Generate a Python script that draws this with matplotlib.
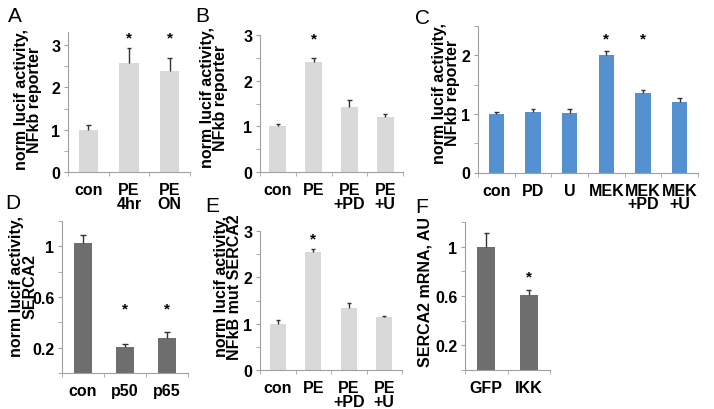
import numpy as np
import matplotlib
matplotlib.use('Agg')
import matplotlib.pyplot as plt

plt.rcParams['font.family'] = ['Liberation Sans', 'DejaVu Sans']

W, H = 714, 410

# Panel data
a_labels = ['con', 'PE\n4hr', 'PE\nON']
a_vals = [1.0, 2.58, 2.39]
a_err = [0.10, 0.34, 0.30]
a_star = [1, 2]

b_labels = ['con', 'PE', 'PE\n+PD', 'PE\n+U']
b_vals = [1.0, 2.40, 1.43, 1.20]
b_err = [0.05, 0.09, 0.15, 0.08]
b_star = [1]

c_labels = ['con', 'PD', 'U', 'MEK', 'MEK\n+PD', 'MEK\n+U']
c_vals = [1.0, 1.03, 1.01, 2.0, 1.35, 1.20]
c_err = [0.03, 0.05, 0.08, 0.07, 0.05, 0.07]
c_star = [3, 4]

d_labels = ['con', 'p50', 'p65']
d_vals = [1.026, 0.205, 0.28]
d_err = [0.065, 0.025, 0.04]
d_star = [1, 2]

e_labels = ['con', 'PE', 'PE\n+PD', 'PE\n+U']
e_vals = [0.99, 2.55, 1.33, 1.14]
e_err = [0.09, 0.06, 0.11, 0.02]
e_star = [1]

f_labels = ['GFP', 'IKK']
f_vals = [1.0, 0.605]
f_err = [0.11, 0.045]
f_star = [1]

LIGHT = '#d9d9d9'
BLUE = '#5590d0'
DARK = '#6e6e6e'
AXC = '#a0a0a0'

fig = plt.figure(figsize=(W / 100, H / 100), dpi=100)


def rect(x0, y0, x1, y1):
    return [x0 / W, 1 - y1 / H, (x1 - x0) / W, (y1 - y0) / H]


def panel(box, labels, vals, err, stars, color, ylim, major, minor,
          ticklabels, star_y, width):
    ax = fig.add_axes(rect(*box))
    x = np.arange(len(vals))
    vals = np.array(vals)
    err = np.array(err)
    ax.bar(x, vals, width=width, color=color, zorder=2)
    top = vals + err
    ax.vlines(x, vals, top, color='#333333', lw=1, zorder=3)
    ax.hlines(top, x - 0.06, x + 0.06, color='#333333', lw=1, zorder=3)
    for i in stars:
        ax.text(x[i], star_y, '*', ha='center', va='center',
                fontsize=11, fontweight='bold')
    ax.set_xlim(-0.5, len(vals) - 0.5)
    ax.set_ylim(*ylim)
    ax.set_yticks(major)
    ax.set_yticklabels(ticklabels)
    ax.set_yticks(minor, minor=True)
    ax.set_xticks(x)
    ax.set_xticklabels(labels, linespacing=0.88)
    ax.set_xticks(np.arange(len(vals) + 1) - 0.5, minor=True)
    for s in ['top', 'right']:
        ax.spines[s].set_visible(False)
    for s in ['left', 'bottom']:
        ax.spines[s].set_color(AXC)
        ax.spines[s].set_linewidth(0.8)
    ax.tick_params(axis='x', which='major', length=0, pad=7.5,
                   labelsize=11.5)
    ax.tick_params(axis='x', which='minor', length=3, color=AXC)
    ax.tick_params(axis='y', which='both', length=3, color=AXC,
                   labelsize=11.5, pad=2.5)
    for t in ax.get_xticklabels() + ax.get_yticklabels():
        t.set_fontweight('bold')
    return ax


panel((68, 33, 190, 173), a_labels, a_vals, a_err, a_star, LIGHT,
      (0, 3.31), [0, 1, 2, 3], [0.5, 1.5, 2.5], ['0', '1', '2', '3'],
      3.19, 0.47)
panel((260, 36, 403, 173), b_labels, b_vals, b_err, b_star, LIGHT,
      (0, 3), [0, 1, 2, 3], [0.5, 1.5, 2.5], ['0', '1', '2', '3'],
      2.93, 0.47)
panel((478, 27, 698, 173.5), c_labels, c_vals, c_err, c_star, BLUE,
      (0, 2.5), [0, 1, 2], [0.5, 1.5, 2.5], ['0', '1', '2'],
      2.29, 0.42)
panel((62, 222, 188, 374), d_labels, d_vals, d_err, d_star, DARK,
      (0, 1.2), [0.2, 0.6, 1.0], [0, 0.4, 0.8, 1.2], ['0.2', '0.6', '1'],
      0.51, 0.44)
panel((260, 232, 402, 371), e_labels, e_vals, e_err, e_star, LIGHT,
      (0, 3), [0, 1, 2, 3], [0.5, 1.5, 2.5], ['0', '1', '2', '3'],
      2.84, 0.44)
panel((465, 223, 550, 371), f_labels, f_vals, f_err, f_star, DARK,
      (0, 1.2), [0.2, 0.6, 1.0], [0, 0.4, 0.8, 1.2], ['0.2', '0.6', '1'],
      0.76, 0.43)

# y labels
ylabels = [
    (28, 100, 'norm lucif activity,\nNFkb reporter'),
    (214, 98, 'norm lucif activity,\nNFkb reporter'),
    (446, 93, 'norm lucif activity,\nNFkb reporter'),
    (23, 287, 'norm lucif activity,\nSERCA2'),
    (228, 287, 'norm lucif activity,\nNFkB mut SERCA2'),
    (425, 292, 'SERCA2 mRNA, AU'),
]
for x, y, s in ylabels:
    fig.text(x / W, 1 - y / H, s, rotation=90, ha='center', va='center',
             fontsize=11.5, fontweight='bold', linespacing=0.9,
             multialignment='center')

# panel letters
letters = [(15, 17, 'A'), (202, 17, 'B'), (422, 19, 'C'),
           (13, 204, 'D'), (212, 207, 'E'), (422, 208, 'F')]
for x, y, s in letters:
    fig.text(x / W, 1 - y / H, s, ha='center', va='center', fontsize=15)

fig.savefig('out.png', dpi=100)
